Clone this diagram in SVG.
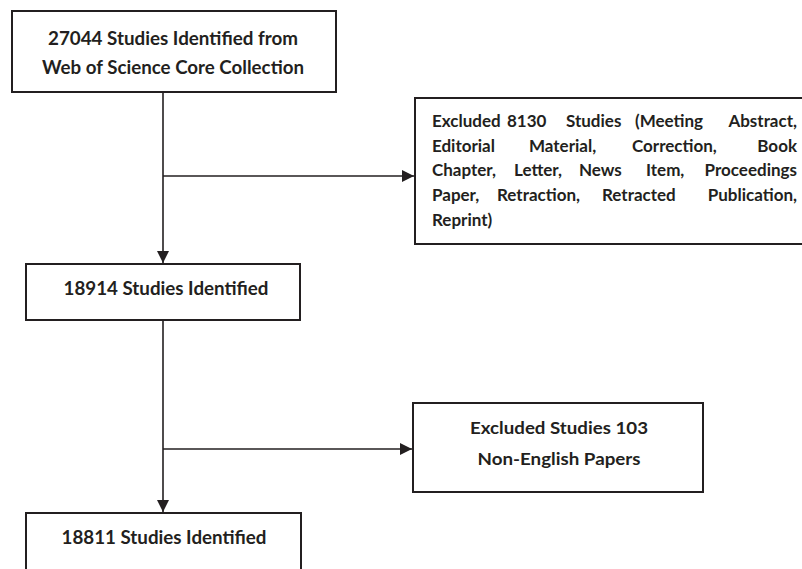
<svg xmlns="http://www.w3.org/2000/svg" width="802" height="569" viewBox="0 0 802 569">
<style>
.box{fill:#fff;stroke:#231f20;stroke-width:2}
.t{font-family:Lato,"Open Sans",sans-serif;font-weight:bold;fill:#231f20}
.c{text-anchor:middle}
.ln{stroke:#231f20;stroke-width:1.6;fill:none}
</style>
<defs>
<marker id="ah" markerUnits="userSpaceOnUse" markerWidth="12" markerHeight="12" refX="12" refY="6" orient="auto">
<path d="M0,0 L12,6 L0,12 Z" fill="#231f20"/>
</marker>
</defs>
<rect width="802" height="569" fill="#fff"/>
<g id="connectors">
<line class="ln" x1="163" y1="92" x2="163" y2="263" marker-end="url(#ah)"/>
<line class="ln" x1="163" y1="176" x2="414" y2="176" marker-end="url(#ah)"/>
<line class="ln" x1="163" y1="320" x2="163" y2="512" marker-end="url(#ah)"/>
<line class="ln" x1="163" y1="449" x2="412" y2="449" marker-end="url(#ah)"/>
</g>
<g id="n1">
<rect class="box" x="12" y="11" width="324" height="81"/>
<text class="t c" x="173" y="45" font-size="18.5" textLength="250" lengthAdjust="spacingAndGlyphs">27044 Studies Identified from</text>
<text class="t c" x="173" y="74" font-size="18.5" textLength="262" lengthAdjust="spacingAndGlyphs">Web of Science Core Collection</text>
</g>
<g id="n2">
<rect class="box" x="415" y="98" width="400" height="146"/>
<text class="t" font-size="17" y="127"><tspan x="432">Excluded</tspan><tspan x="507">8130</tspan><tspan x="566">Studies</tspan><tspan x="635">(Meeting</tspan><tspan x="797" text-anchor="end">Abstract,</tspan></text>
<text class="t" font-size="17" y="152"><tspan x="432">Editorial</tspan><tspan x="529">Material,</tspan><tspan x="632">Correction,</tspan><tspan x="797" text-anchor="end">Book</tspan></text>
<text class="t" font-size="17" y="176"><tspan x="432">Chapter,</tspan><tspan x="514">Letter,</tspan><tspan x="579">News</tspan><tspan x="646">Item,</tspan><tspan x="797" text-anchor="end">Proceedings</tspan></text>
<text class="t" font-size="17" y="201"><tspan x="432">Paper,</tspan><tspan x="497">Retraction,</tspan><tspan x="602">Retracted</tspan><tspan x="797" text-anchor="end">Publication,</tspan></text>
<text class="t" font-size="17" y="226" x="432">Reprint)</text>
</g>
<g id="n3">
<rect class="box" x="26" y="264" width="274" height="56"/>
<text class="t c" x="166" y="295" font-size="18.5" textLength="205" lengthAdjust="spacingAndGlyphs">18914 Studies Identified</text>
</g>
<g id="n4">
<rect class="box" x="413" y="403" width="290" height="89"/>
<text class="t c" x="559" y="434" font-size="17.5" textLength="178" lengthAdjust="spacingAndGlyphs">Excluded Studies 103</text>
<text class="t c" x="559" y="465" font-size="17.5" textLength="163" lengthAdjust="spacingAndGlyphs">Non-English Papers</text>
</g>
<g id="n5">
<rect class="box" x="26" y="513" width="275" height="80"/>
<text class="t c" x="164" y="544" font-size="18.5" textLength="205" lengthAdjust="spacingAndGlyphs">18811 Studies Identified</text>
</g>
</svg>
